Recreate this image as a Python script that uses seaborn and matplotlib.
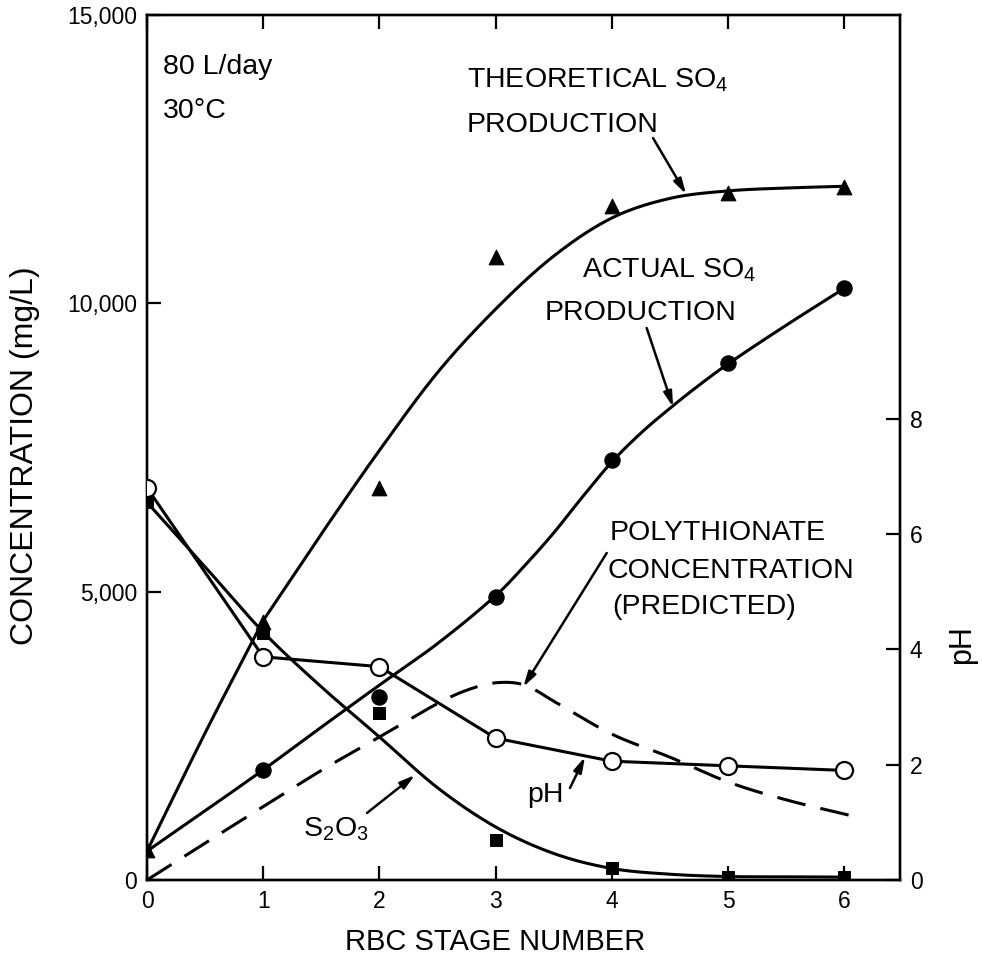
import numpy as np
import pandas as pd
import matplotlib
matplotlib.use("Agg")
import matplotlib.pyplot as plt
import seaborn as sns

# ---------------- data ----------------
stages = [0, 1, 2, 3, 4, 5, 6]
x_ticks = [0, 1, 2, 3, 4, 5, 6]
y_ticks = [0, 5000, 10000, 15000]
y_ticklabels = ["0", "5,000", "10,000", "15,000"]
ph_ticks = [0, 2, 4, 6, 8]

# measured points
theo_pts = [520, 4480, 6790, 10810, 11680, 11910, 12020]          # triangles
actual_x = [1, 2, 3, 4, 5, 6]
actual_pts = [1910, 3180, 4910, 7280, 8960, 10260]                 # filled circles
s2o3_x = [0, 1, 1, 2, 3, 4, 5, 6]
s2o3_pts = [6550, 4280, 4300, 2900, 690, 210, 50, 50]              # squares
ph_vals = [6.8, 3.87, 3.7, 2.46, 2.06, 1.98, 1.9]                  # open circles

# fitted curves
theo_x1 = [0, 0.5, 1]
theo_curve1 = [500, 2550, 4500]
theo_x2 = [1, 1.5, 2, 2.5, 3, 3.5, 4, 4.5, 5, 5.5, 6]
theo_curve2 = [4500, 6000, 7450, 8800, 9900, 10820, 11480, 11820, 11950, 12000, 12030]
actual_cx = [0, 0.5, 1, 1.5, 2, 2.5, 3, 3.25, 3.5, 3.75, 4, 4.25, 4.5, 4.75, 5, 5.5, 6]
actual_curve = [500, 1200, 1910, 2650, 3380, 4100, 4930, 5450, 6020, 6650, 7250, 7750,
                8180, 8580, 8950, 9620, 10260]
s2o3_cx = [0, 0.5, 1, 1.5, 2, 2.5, 3, 3.5, 4, 4.5, 5, 5.5, 6]
s2o3_curve = [6550, 5430, 4300, 3350, 2480, 1600, 920, 460, 200, 100, 60, 55, 50]
poly_x = [0, 0.5, 1, 1.5, 2, 2.5, 2.75, 3, 3.25, 3.5, 4, 4.5, 5, 5.5, 6.05]
poly_curve = [0, 640, 1270, 1900, 2480, 3060, 3290, 3420, 3380, 3100, 2530, 2130, 1700, 1390, 1120]


def smooth(x, y, n=400):
    """Cubic Hermite rendering through the read curve points."""
    x = np.asarray(x, float)
    y = np.asarray(y, float)
    d = np.zeros_like(y)
    d[1:-1] = (y[2:] - y[:-2]) / (x[2:] - x[:-2])
    d[0] = (y[1] - y[0]) / (x[1] - x[0])
    d[-1] = (y[-1] - y[-2]) / (x[-1] - x[-2])
    xs = np.linspace(x[0], x[-1], n)
    idx = np.clip(np.searchsorted(x, xs) - 1, 0, len(x) - 2)
    h = x[idx + 1] - x[idx]
    t = (xs - x[idx]) / h
    h00 = 2 * t**3 - 3 * t**2 + 1
    h10 = t**3 - 2 * t**2 + t
    h01 = -2 * t**3 + 3 * t**2
    h11 = t**3 - t**2
    ys = h00 * y[idx] + h10 * h * d[idx] + h01 * y[idx + 1] + h11 * h * d[idx + 1]
    return xs, ys


sns.set_style("ticks")
plt.rcParams["font.family"] = ["Liberation Sans", "DejaVu Sans"]
plt.rcParams["mathtext.fontset"] = "custom"
plt.rcParams["mathtext.rm"] = "Liberation Sans"
for k in ["text.color", "axes.labelcolor", "xtick.color", "ytick.color", "axes.edgecolor"]:
    plt.rcParams[k] = "black"

fig = plt.figure(figsize=(9.82, 9.63), dpi=100)
ax = fig.add_axes([0.1497, 0.0862, 0.7668, 0.8982])
ax.set_xlim(0, 6.48)
ax.set_ylim(0, 15000)

LW = 2.2
K = "black"

# smooth curves
for cx, cy in [(theo_x1, theo_curve1), (theo_x2, theo_curve2),
               (actual_cx, actual_curve), (s2o3_cx, s2o3_curve)]:
    xs, ys = smooth(cx, cy)
    sns.lineplot(x=xs, y=ys, ax=ax, color=K, lw=LW, sort=False, estimator=None, zorder=2)
xs, ys = smooth(poly_x, poly_curve)
sns.lineplot(x=xs, y=ys, ax=ax, color=K, lw=LW, sort=False, estimator=None,
             dashes=False, linestyle=(0, (9.5, 5)), zorder=2)

# markers
sns.scatterplot(x=stages, y=theo_pts, ax=ax, marker="^", s=110, color=K, edgecolor=K, zorder=4)
sns.scatterplot(x=actual_x, y=actual_pts, ax=ax, marker="o", s=120, color=K, edgecolor=K, zorder=4)
sns.scatterplot(x=s2o3_x, y=s2o3_pts, ax=ax, marker="s", s=75, color=K, edgecolor=K, zorder=4)

ax.set_xticks(x_ticks)
ax.set_yticks(y_ticks)
ax.set_yticklabels(y_ticklabels)
ax.tick_params(axis="both", direction="in", length=10, width=1.6, labelsize=16.5,
               colors=K, top=True, right=False, pad=7)
for s in ax.spines.values():
    s.set_linewidth(1.7)
    s.set_color(K)

ax.set_xlabel("RBC STAGE NUMBER", fontsize=21)
ax.xaxis.set_label_coords(0.462, -0.056)
ax.set_ylabel("CONCENTRATION (mg/L)", fontsize=23)
ax.yaxis.set_label_coords(-0.142, 0.49)

# pH on the right axis
ax2 = ax.twinx()
ax2.set_ylim(0, 15)
sns.lineplot(x=stages, y=ph_vals, ax=ax2, color=K, lw=LW, sort=False, estimator=None, zorder=3)
sns.scatterplot(x=stages, y=ph_vals, ax=ax2, marker="o", s=150, color="white",
                edgecolor=K, linewidth=1.6, zorder=5)
ax2.set_yticks(ph_ticks)
ax2.tick_params(axis="y", direction="in", length=10, width=1.6, labelsize=16.5, pad=7, colors=K)
ax2.set_ylabel("pH", fontsize=22, rotation=90)
ax2.yaxis.set_label_coords(1.062, 0.272)
for s in ax2.spines.values():
    s.set_linewidth(1.7)
    s.set_color(K)

# annotations
fs = 20.5
ax.text(0.138, 13980, "80 L/day", fontsize=fs, ha="left", va="baseline")
ax.text(0.138, 13210, "30°C", fontsize=fs, ha="left", va="baseline")
ax.text(2.754, 13750, r"THEORETICAL $\mathregular{SO_4}$", fontsize=fs, ha="left", va="baseline")
ax.text(2.754, 12970, "PRODUCTION", fontsize=fs, ha="left", va="baseline")
ax.text(3.744, 10456, r"ACTUAL $\mathregular{SO_4}$", fontsize=fs, ha="left", va="baseline")
ax.text(3.425, 9710, "PRODUCTION", fontsize=fs, ha="left", va="baseline")
ax.text(3.985, 5896, "POLYTHIONATE", fontsize=fs, ha="left", va="baseline")
ax.text(3.967, 5237, "CONCENTRATION", fontsize=fs, ha="left", va="baseline")
ax.text(4.0, 4620, "(PREDICTED)", fontsize=fs, ha="left", va="baseline")
ax.text(1.343, 746, r"$\mathregular{S_2O_3}$", fontsize=fs, ha="left", va="baseline")
ax.text(3.27, 1353, "pH", fontsize=fs, ha="left", va="baseline")

arrow = dict(arrowstyle="-|>,head_length=0.9,head_width=0.25", color=K, lw=1.8,
             shrinkA=0, shrinkB=0)
for (x0, y0), (x1, y1) in [((4.355, 12866), (4.639, 11895)),
                           ((4.30, 9572), (4.527, 8202)),
                           ((3.956, 5670), (3.238, 3347)),
                           ((1.893, 1162), (2.306, 1821)),
                           ((3.640, 1595), (3.769, 2133))]:
    ax.annotate("", xy=(x1, y1), xytext=(x0, y0), arrowprops=arrow, zorder=6)

fig.savefig("out.png", dpi=100)
